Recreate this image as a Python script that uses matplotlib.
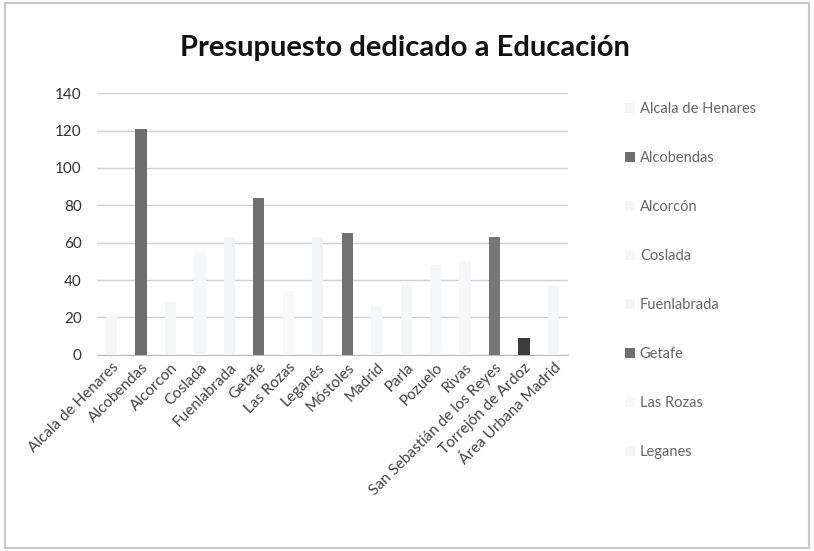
import matplotlib.pyplot as plt
from matplotlib.patches import Rectangle

plt.rcParams['font.family'] = ['Lato', 'DejaVu Sans']

# Municipios y presupuesto (los claros son aproximados)
municipios = ["Alcala de Henares", "Alcobendas", "Alcorcon", "Coslada", "Fuenlabrada",
              "Getafe", "Las Rozas", "Leganés", "Móstoles", "Madrid", "Parla", "Pozuelo",
              "Rivas", "San Sebastián de los Reyes", "Torrejón de Ardoz", "Área Urbana Madrid"]
legend_labels = ["Alcala de Henares", "Alcobendas", "Alcorcón", "Coslada", "Fuenlabrada",
                 "Getafe", "Las Rozas", "Leganes"]
presupuesto = [22, 121, 28, 55, 63, 84, 34, 63, 65, 26, 38, 48, 50, 63, 9, 37]

# colores casi blancos salvo los que se ven oscuros en el escaneo
colores = ["#f4f6f7", "#6e6e6e", "#f5f6f6", "#f6f7f8", "#f4f5f7", "#707070",
           "#f7f8f8", "#f4f5f7", "#727272", "#f6f7f8", "#f5f7f7", "#f4f6f7",
           "#f6f7f8", "#777777", "#3c3c3c", "#f5f6f7"]

fig = plt.figure(figsize=(8.14, 5.51), dpi=100)
ax = fig.add_axes([0.119, 0.356, 0.579, 0.475])

x = range(len(municipios))
bars = ax.bar(x, presupuesto, width=0.38, color=colores, zorder=3)

ax.set_ylim(0, 140)
ax.set_xlim(-0.5, len(municipios) - 0.5)
ax.set_yticks(range(0, 141, 20))
ax.tick_params(axis='y', length=0, labelsize=11, labelcolor="#333333", pad=11)
ax.set_xticks(list(x))
ax.set_xticklabels(municipios, rotation=45, ha="right", rotation_mode="anchor",
                   fontsize=11, color="#444444")
ax.tick_params(axis='x', length=0, pad=4)
ax.grid(axis='y', color="#d0d0d0", linewidth=1, zorder=0)
for s in ["top", "right", "left"]:
    ax.spines[s].set_visible(False)
ax.spines["bottom"].set_color("#bbbbbb")

fig.suptitle("Presupuesto dedicado a Educación", x=0.498, y=0.913, va="center",
             fontsize=21, fontweight="bold", color="#111111")

# leyenda recortada (solo las primeras 8 entradas caben)
leg = fig.legend(bars.patches[:8], legend_labels, loc="upper left",
                 bbox_to_anchor=(0.752, 0.838), frameon=False, fontsize=10.5,
                 handlelength=0.7, handleheight=0.7, handletextpad=0.3,
                 labelspacing=2.4, labelcolor="#666666")

fig.add_artist(Rectangle((0.006, 0.006), 0.988, 0.988, transform=fig.transFigure,
                         fill=False, edgecolor="#c8c8c8", linewidth=1.5))

fig.savefig("out.png", dpi=100)
